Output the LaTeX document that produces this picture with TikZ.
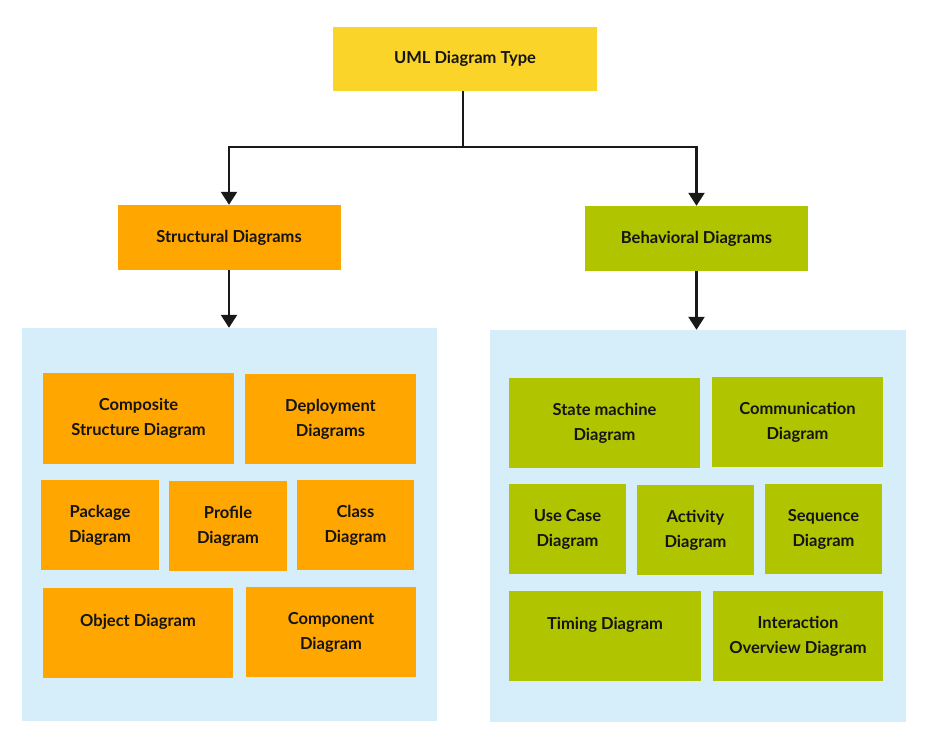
\documentclass[tikz,border=0pt]{standalone}
\usepackage{fontspec}
\setmainfont{Lato}[UprightFont=* Bold]
\usetikzlibrary{arrows.meta}
\definecolor{umlyellow}{RGB}{250,212,40}
\definecolor{umlorange}{RGB}{255,166,0}
\definecolor{umlgreen}{RGB}{176,196,0}
\definecolor{umlpanel}{RGB}{214,238,250}
\definecolor{umltext}{RGB}{20,20,20}
\tikzset{
  box/.style={rectangle, inner sep=0pt, align=center, text=umltext,
    font=\fontsize{16.5}{25}\selectfont},
  ybox/.style={box, fill=umlyellow},
  obox/.style={box, fill=umlorange},
  gbox/.style={box, fill=umlgreen},
  panel/.style={rectangle, inner sep=0pt, fill=umlpanel},
  conn/.style={line width=2.4pt, draw=black!90},
  arr/.style={conn, -{Triangle[width=16pt,length=13pt]}},
}
\begin{document}
\begin{tikzpicture}[x=1pt,y=-1pt]
\useasboundingbox (0,0) rectangle (928,743);
% panels
\node[panel, minimum width=415pt, minimum height=393pt] (lpanel) at (229.5,524.5) {};
\node[panel, minimum width=416pt, minimum height=392pt] (rpanel) at (698,526) {};
% top level
\node[ybox, minimum width=264pt, minimum height=64pt] (top) at (465,59) {UML Diagram Type};
\node[obox, minimum width=223pt, minimum height=65pt] (struct) at (229,237.5) {Structural Diagrams};
\node[gbox, minimum width=223pt, minimum height=65pt] (behav) at (696.5,238.5) {Behavioral Diagrams};
% structural
\node[obox, minimum width=191pt, minimum height=91pt] (composite) at (138.5,418.5) {Composite\\Structure Diagram};
\node[obox, minimum width=171pt, minimum height=90pt] (deploy) at (330.5,419) {Deployment\\Diagrams};
\node[obox, minimum width=118pt, minimum height=90pt] (package) at (100,525) {Package\\Diagram};
\node[obox, minimum width=118pt, minimum height=90pt] (profile) at (228,526) {Profile\\Diagram};
\node[obox, minimum width=117pt, minimum height=90pt] (class) at (355.5,525) {Class\\Diagram};
\node[obox, minimum width=190pt, minimum height=90pt] (object) at (138,633) {Object Diagram\\\mbox{}};
\node[obox, minimum width=170pt, minimum height=90pt] (component) at (331,632) {Component\\Diagram};
% behavioral
\node[gbox, minimum width=191pt, minimum height=90pt] (state) at (604.5,423) {State machine\\Diagram};
\node[gbox, minimum width=171pt, minimum height=90pt] (comm) at (797.5,422) {Communication\\Diagram};
\node[gbox, minimum width=117pt, minimum height=90pt] (usecase) at (567.5,529) {Use Case\\Diagram};
\node[gbox, minimum width=117pt, minimum height=90pt] (activity) at (695.5,530) {Activity\\Diagram};
\node[gbox, minimum width=117pt, minimum height=90pt] (sequence) at (823.5,529) {Sequence\\Diagram};
\node[gbox, minimum width=192pt, minimum height=90pt] (timing) at (605,636) {Timing Diagram\\\mbox{}};
\node[gbox, minimum width=170pt, minimum height=90pt] (interaction) at (798,636) {Interaction\\Overview Diagram};
% connectors
\coordinate (split) at (463,147);
\draw[conn] (top.south -| split) -- (split);
\draw[arr] (split) -| (struct.north);
\draw[arr] (split) -| (behav.north);
\draw[arr] (struct.south) -- (struct.south |- lpanel.north);
\draw[arr] (behav.south) -- (behav.south |- rpanel.north);
\end{tikzpicture}
\end{document}
